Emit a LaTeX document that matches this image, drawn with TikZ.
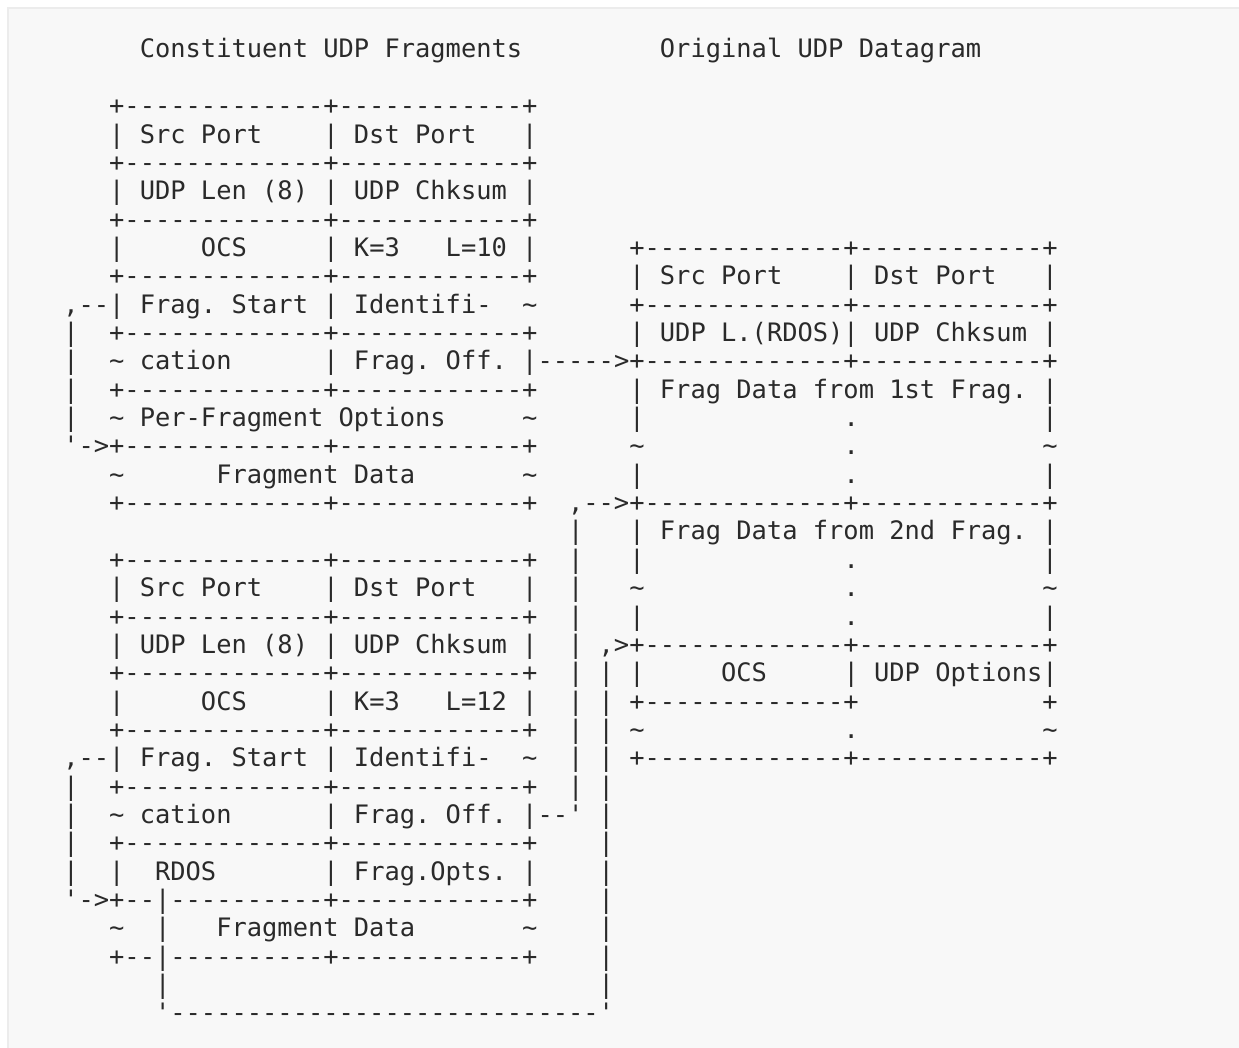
\documentclass[tikz,border=0pt]{standalone}
\usepackage{fontspec}
\setmonofont{DejaVu Sans Mono}
\frenchspacing
\definecolor{ink}{HTML}{2A2A2A}
\definecolor{bgfill}{HTML}{F8F8F8}
\definecolor{bgline}{HTML}{ECECEC}
\newcommand\gap[1]{\kern#1\fontcharwd\font`x\relax}
\newcommand\tild{\char126\relax}
\newcommand\brd{+-------------+------------+}
\tikzset{txt/.style={anchor=base west, inner sep=0pt, outer sep=0pt, text=ink,
  font=\ttfamily\fontsize{25.41pt}{30pt}\selectfont}}
\newcommand\arow[3]{\node[txt] (#1) at (48,{58+28.35*#2}) {#3};}
\begin{document}
\begin{tikzpicture}[x=1pt,y=-1pt]
\useasboundingbox (0,0) rectangle (1239,1048);
\clip (0,0) rectangle (1239,1048);
\draw[bgline, line width=2pt, fill=bgfill] (8,8) rectangle (1270,1080);
\arow{r0}{0}{\gap6Constituent UDP Fragments\gap9Original UDP Datagram}
\arow{r2}{2}{\gap4\brd}
\arow{r3}{3}{\gap4| Src Port\gap4| Dst Port\gap3|}
\arow{r4}{4}{\gap4\brd}
\arow{r5}{5}{\gap4| UDP Len (8) | UDP Chksum |}
\arow{r6}{6}{\gap4\brd}
\arow{r7}{7}{\gap4|\gap5OCS\gap5| K=3\gap3L=10 |\gap6\brd}
\arow{r8}{8}{\gap4\brd\gap6| Src Port\gap4| Dst Port\gap3|}
\arow{r9}{9}{\gap1,--| Frag. Start | Identifi-\gap2\tild\gap6\brd}
\arow{r10}{10}{\gap1|\gap2\brd\gap6| UDP L.(RDOS)| UDP Chksum |}
\arow{r11}{11}{\gap1|\gap2\tild{} cation\gap6| Frag. Off. |----->\brd}
\arow{r12}{12}{\gap1|\gap2\brd\gap6| Frag Data from 1st Frag. |}
\arow{r13}{13}{\gap1|\gap2\tild{} Per-Fragment Options\gap5\tild\gap6|\gap{13}.\gap{12}|}
\arow{r14}{14}{\gap1'->\brd\gap6\tild\gap{13}.\gap{12}\tild}
\arow{r15}{15}{\gap4\tild\gap6Fragment Data\gap7\tild\gap6|\gap{13}.\gap{12}|}
\arow{r16}{16}{\gap4\brd\gap2,-->\brd}
\arow{r17}{17}{\gap{34}|\gap3| Frag Data from 2nd Frag. |}
\arow{r18}{18}{\gap4\brd\gap2|\gap3|\gap{13}.\gap{12}|}
\arow{r19}{19}{\gap4| Src Port\gap4| Dst Port\gap3|\gap2|\gap3\tild\gap{13}.\gap{12}\tild}
\arow{r20}{20}{\gap4\brd\gap2|\gap3|\gap{13}.\gap{12}|}
\arow{r21}{21}{\gap4| UDP Len (8) | UDP Chksum |\gap2| ,>\brd}
\arow{r22}{22}{\gap4\brd\gap2| | |\gap5OCS\gap5| UDP Options|}
\arow{r23}{23}{\gap4|\gap5OCS\gap5| K=3\gap3L=12 |\gap2| | +-------------+\gap{12}+}
\arow{r24}{24}{\gap4\brd\gap2| | \tild\gap{13}.\gap{12}\tild}
\arow{r25}{25}{\gap1,--| Frag. Start | Identifi-\gap2\tild\gap2| | \brd}
\arow{r26}{26}{\gap1|\gap2\brd\gap2| |}
\arow{r27}{27}{\gap1|\gap2\tild{} cation\gap6| Frag. Off. |--' |}
\arow{r28}{28}{\gap1|\gap2\brd\gap4|}
\arow{r29}{29}{\gap1|\gap2|\gap2RDOS\gap7| Frag.Opts. |\gap4|}
\arow{r30}{30}{\gap1'->+--|----------+------------+\gap4|}
\arow{r31}{31}{\gap4\tild\gap2|\gap3Fragment Data\gap7\tild\gap4|}
\arow{r32}{32}{\gap4+--|----------+------------+\gap4|}
\arow{r33}{33}{\gap7|\gap{28}|}
\arow{r34}{34}{\gap7'----------------------------'}
\end{tikzpicture}
\end{document}
